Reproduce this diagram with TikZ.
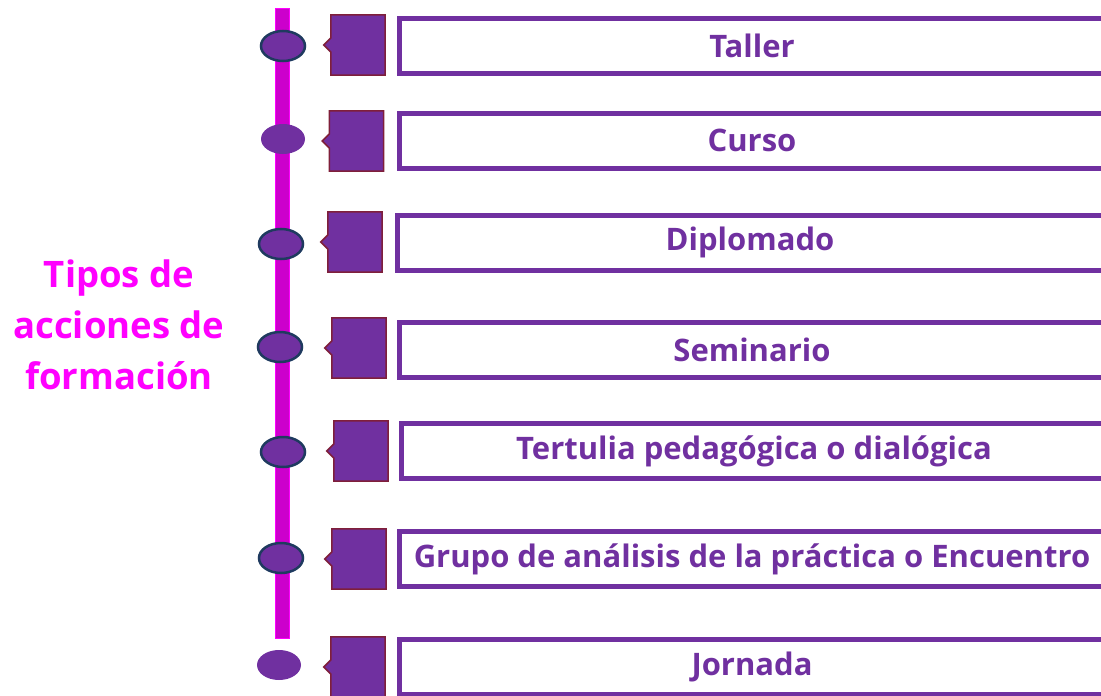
\documentclass[tikz,border=0pt]{standalone}
\usepackage{fontspec}
\setmainfont{Open Sans}
\usetikzlibrary{shapes.geometric,calc}
\definecolor{morado}{HTML}{7030A0}
\definecolor{fucsia}{HTML}{FF00FF}
\definecolor{lila}{HTML}{CC00CC}
\definecolor{borde}{HTML}{1F3A5F}
\definecolor{vino}{HTML}{7F1F3A}
\tikzset{
  punto/.style={ellipse, fill=morado, minimum width=44pt, minimum height=30pt, inner sep=0pt},
  puntob/.style={punto, draw=borde, line width=2.5pt},
  pestana/.style={minimum width=54pt, minimum height=60pt, inner sep=0pt},
  caja/.style={draw=morado, fill=white, line width=5pt, minimum width=712pt, minimum height=55pt,
    anchor=west, inner sep=0pt, outer sep=0pt, text=morado, font=\fontsize{31}{36}\selectfont\bfseries},
}
\begin{document}
\begin{tikzpicture}[x=1pt,y=-1pt]
\useasboundingbox (0,0) rectangle (1101,696);
% eje vertical
\coordinate (ejea) at (282,8);
\coordinate (ejeb) at (282,638);
\draw[draw=fucsia, fill=lila, line width=1pt] ($(ejea)+(-7,0)$) rectangle ($(ejeb)+(7,0)$);
% titulo
\node[text=fucsia, align=center, font=\fontsize{36.5}{51}\selectfont\bfseries] (titulo) at (119,325)
  {Tipos de\\acciones de\\formación};
% puntos sobre el eje
\node[puntob] (p1) at (283,46) {};
\node[punto]  (p2) at (283,139) {};
\node[puntob] (p3) at (281,244) {};
\node[puntob] (p4) at (280,347) {};
\node[puntob] (p5) at (283,452) {};
\node[puntob] (p6) at (281,558) {};
\node[punto]  (p7) at (279,665) {};
% pestanas
\node[pestana] (t1) at (358,45) {};
\node[pestana] (t2) at (356.5,141) {};
\node[pestana] (t3) at (355,242) {};
\node[pestana] (t4) at (359,348) {};
\node[pestana] (t5) at (361,451) {};
\node[pestana] (t6) at (359,559) {};
\node[pestana] (t7) at (358,667) {};
\foreach \t in {t1,t2,t3,t4,t5,t6,t7}
  \filldraw[fill=morado, draw=vino, line width=1.5pt, line join=miter]
    (\t.north west) -- (\t.north east) -- (\t.south east) -- (\t.south west)
    -- ($(\t.west)+(0,7)$) -- ($(\t.west)+(-7,0)$) -- ($(\t.west)+(0,-7)$) -- cycle;
% cajas
\node[caja] (c1) at (399.5,45.5) {\hspace*{-7pt}Taller};
\node[caja] (c2) at (399.5,140.5) {\hspace*{-7pt}Curso};
\node[caja] (c3) at (397.5,242.5) {\hspace*{-7pt}Diplomado};
\node[caja] (c4) at (399.5,350) {\hspace*{-7pt}Seminario};
\node[caja] (c5) at (401.5,451) {\hspace*{-7pt}Tertulia pedagógica o dialógica};
\node[caja] (c6) at (399.5,559) {\hspace*{-7pt}Grupo de análisis de la práctica o Encuentro};
\node[caja] (c7) at (399.5,667) {\hspace*{-7pt}Jornada};
\end{tikzpicture}
\end{document}
